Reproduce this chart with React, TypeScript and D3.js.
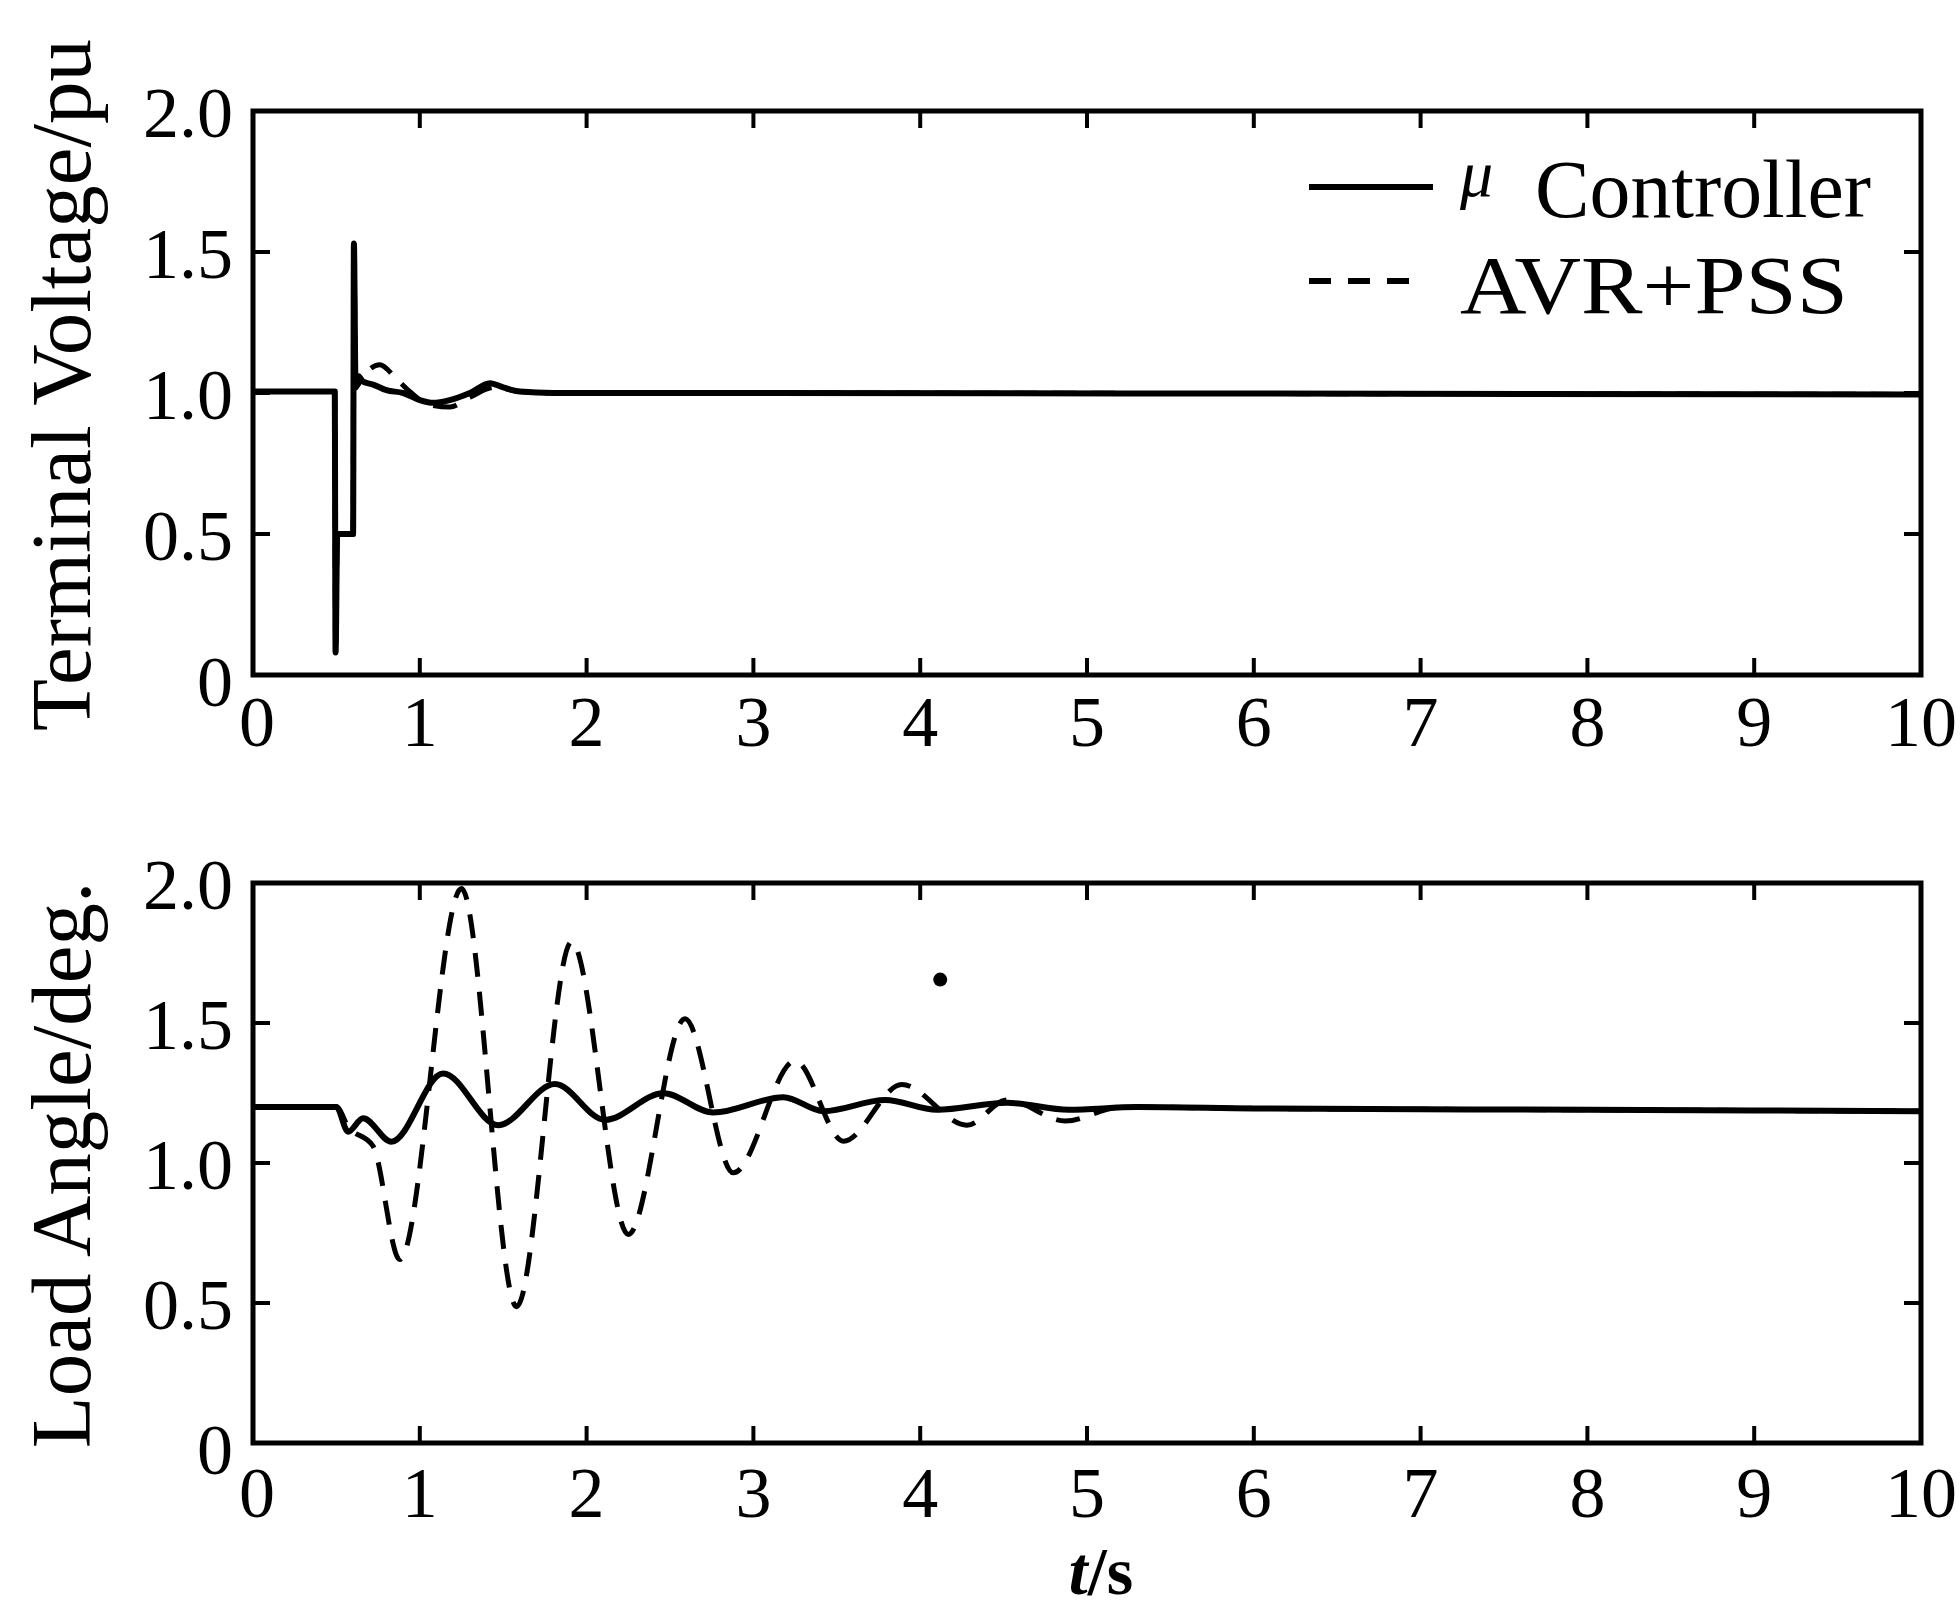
import React from "react";
import * as d3 from "d3";

// ---------- data ----------
const timeTicks = [0, 1, 2, 3, 4, 5, 6, 7, 8, 9, 10];
const timeTickLabels = ["0", "1", "2", "3", "4", "5", "6", "7", "8", "9", "10"];
const valueTicks = [0, 0.5, 1.0, 1.5, 2.0];
const valueTickLabels = ["0", "0.5", "1.0", "1.5", "2.0"];

const seriesNames = ["\u03bc Controller", "AVR+PSS"];
const panelTitles = ["Terminal Voltage/pu", "Load Angle/deg."];
const xAxisTitle = "t/s";

// Terminal voltage (pu), [t, value]
const voltageMu: [number, number][] = [
  [0, 1.005], [0.49, 1.005], [0.495, 0.08], [0.505, 0.5], [0.6, 0.5], [0.605, 1.53],
  [0.615, 1.02], [0.63, 1.06], [0.66, 1.04], [0.72, 1.03], [0.8, 1.01], [0.9, 1.0],
  [1.0, 0.975], [1.08, 0.965], [1.18, 0.975], [1.3, 1.0], [1.42, 1.035], [1.5, 1.02],
  [1.6, 1.005], [1.8, 1.0], [3, 1.0], [6, 0.998], [10, 0.995],
];
const voltagePss: [number, number][] = [
  [0, 1.005], [0.49, 1.005], [0.495, 0.08], [0.505, 0.5], [0.6, 0.5], [0.605, 1.53],
  [0.615, 1.02], [0.66, 1.06], [0.76, 1.1], [0.86, 1.05], [0.95, 1.0], [1.05, 0.96],
  [1.18, 0.95], [1.3, 0.985], [1.45, 1.02], [1.6, 1.005], [1.8, 1.0], [3, 1.0],
  [6, 0.998], [10, 0.995],
];

// Load angle (deg.), [t, value]
const angleMu: [number, number][] = [
  [0, 1.2], [0.5, 1.2], [0.57, 1.112], [0.66, 1.16], [0.83, 1.076], [1.14, 1.32],
  [1.47, 1.135], [1.81, 1.282], [2.11, 1.154], [2.46, 1.249], [2.76, 1.18], [3.18, 1.235],
  [3.42, 1.185], [3.79, 1.225], [4.1, 1.19], [4.52, 1.215], [4.89, 1.19], [5.3, 1.2],
  [6, 1.195], [8, 1.19], [10, 1.185],
];
const anglePss: [number, number][] = [
  [0, 1.2], [0.5, 1.2], [0.57, 1.13], [0.72, 1.06], [0.88, 0.655], [1.25, 1.98],
  [1.58, 0.487], [1.91, 1.79], [2.25, 0.745], [2.59, 1.515], [2.88, 0.965], [3.25, 1.365],
  [3.54, 1.078], [3.89, 1.28], [4.28, 1.135], [4.52, 1.225], [4.87, 1.15], [5.2, 1.2],
  [6, 1.195], [8, 1.19], [10, 1.185],
];

// speck visible in the lower panel
const angleSpeck: [number, number][] = [[4.12, 1.655]];

// ---------- layout ----------
const W = 1960;
const H = 1610;
const X0 = 253;
const X1 = 1921;
const FONT = "'Liberation Serif', 'Times New Roman', serif";

const panels = [
  { top: 111, bottom: 675, title: panelTitles[0], titleY: 385, mu: voltageMu, pss: voltagePss, xLabelDy: 71, specks: [] as [number, number][] },
  { top: 883, bottom: 1443, title: panelTitles[1], titleY: 1165, mu: angleMu, pss: anglePss, xLabelDy: 74, specks: angleSpeck },
];

function Panel({ p, legend }: { p: typeof panels[number]; legend: boolean }) {
  const x = d3.scaleLinear().domain([0, 10]).range([X0, X1]);
  const y = d3.scaleLinear().domain([0, 2]).range([p.bottom, p.top]);
  const line = d3
    .line<[number, number]>()
    .x((d) => x(d[0]))
    .y((d) => y(d[1]))
    .curve(d3.curveMonotoneX);
  const tickLen = 17;
  return (
    <g>
      {/* data */}
      <path d={line(p.mu) || ""} fill="none" stroke="#000" strokeWidth={6} strokeLinejoin="round" />
      <path d={line(p.pss) || ""} fill="none" stroke="#000" strokeWidth={5} strokeDasharray="24,15" />
      {p.specks.map((d, i) => (
        <circle key={i} cx={x(d[0])} cy={y(d[1])} r={7} fill="#000" />
      ))}
      {/* frame */}
      <rect x={X0} y={p.top} width={X1 - X0} height={p.bottom - p.top} fill="none" stroke="#000" strokeWidth={5} />
      {/* x ticks */}
      {timeTicks.map((t, i) => (
        <g key={"xt" + i}>
          {t > 0 && t < 10 && (
            <>
              <line x1={x(t)} x2={x(t)} y1={p.bottom} y2={p.bottom - tickLen} stroke="#000" strokeWidth={4} />
              <line x1={x(t)} x2={x(t)} y1={p.top} y2={p.top + tickLen} stroke="#000" strokeWidth={4} />
            </>
          )}
          <text x={x(t) + (t === 0 ? 4 : 0)} y={p.bottom + p.xLabelDy} fontSize={72} fontFamily={FONT} textAnchor="middle">
            {timeTickLabels[i]}
          </text>
        </g>
      ))}
      {/* y ticks */}
      {valueTicks.map((v, i) => (
        <g key={"yt" + i}>
          {v > 0 && v < 2 && (
            <>
              <line x1={X0} x2={X0 + tickLen} y1={y(v)} y2={y(v)} stroke="#000" strokeWidth={4} />
              <line x1={X1} x2={X1 - tickLen} y1={y(v)} y2={y(v)} stroke="#000" strokeWidth={4} />
            </>
          )}
          <text x={233} y={y(v) + (v === 0 ? 31 : 26)} fontSize={72} fontFamily={FONT} textAnchor="end">
            {valueTickLabels[i]}
          </text>
        </g>
      ))}
      {/* y title */}
      <text
        transform={`translate(90,${p.titleY}) rotate(-90)`}
        fontSize={85}
        fontFamily={FONT}
        textAnchor="middle"
      >
        {p.title}
      </text>
      {legend && (
        <g>
          <line x1={1309} x2={1433} y1={187} y2={187} stroke="#000" strokeWidth={6} />
          <text x={1460} y={196} fontSize={66} fontStyle="italic" fontFamily={FONT}>
            {seriesNames[0].split(" ")[0]}
          </text>
          <text x={1535} y={217} fontSize={82} fontFamily={FONT} textLength={336} lengthAdjust="spacingAndGlyphs">
            {seriesNames[0].split(" ")[1]}
          </text>
          <line x1={1309} x2={1422} y1={281} y2={281} stroke="#000" strokeWidth={6} strokeDasharray="22,17" />
          <text x={1460} y={313} fontSize={82} fontFamily={FONT} textLength={388} lengthAdjust="spacingAndGlyphs">
            {seriesNames[1]}
          </text>
        </g>
      )}
    </g>
  );
}

export default function App() {
  return (
    <svg
      width={W}
      height={H}
      viewBox={`0 0 ${W} ${H}`}
      style={{ position: "absolute", left: 0, top: 0, background: "#fff" }}
    >
      <rect x={0} y={0} width={W} height={H} fill="#fff" />
      {panels.map((p, i) => (
        <Panel key={i} p={p} legend={i === 0} />
      ))}
      <text x={1101} y={1594} fontSize={68} fontFamily={FONT} fontWeight="bold" textAnchor="middle">
        <tspan fontStyle="italic">{xAxisTitle[0]}</tspan>
        <tspan>{xAxisTitle.slice(1)}</tspan>
      </text>
    </svg>
  );
}
